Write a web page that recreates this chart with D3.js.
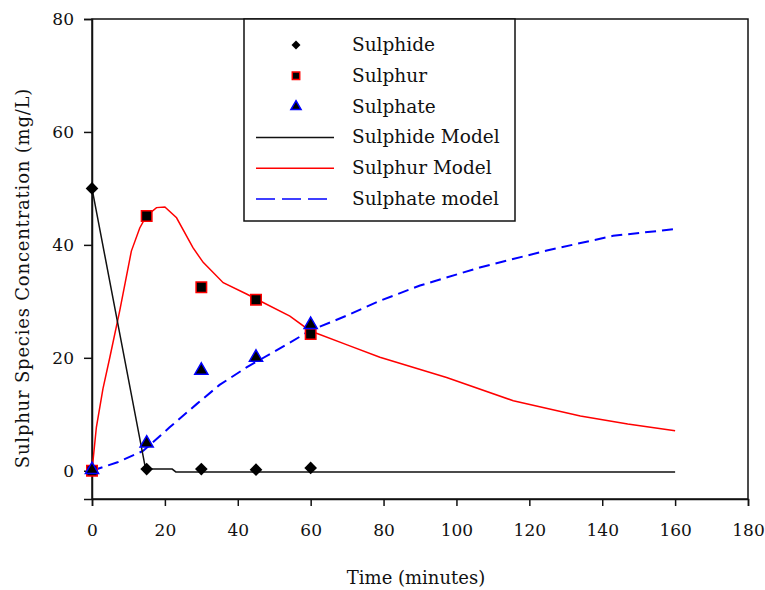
<!DOCTYPE html>
<html>
<head>
<meta charset="utf-8">
<script src="https://cdn.jsdelivr.net/npm/d3@7"></script>
<style>
  body { margin: 0; background: #fff; }
  svg text { font-family: "DejaVu Serif", serif; fill: #111; }
</style>
</head>
<body>
<div id="chart"></div>
<script>
// measured points (minutes, mg/L)
const sulphideObs = [[0, 50], [15, 0.3], [30, 0.3], [45, 0.2], [60, 0.5]];
const sulphurObs = [[0, 0], [15, 45.1], [30, 32.5], [45, 30.3], [60, 24.2]];
const sulphateObs = [[0, 0], [15, 4.7], [30, 17.6], [45, 19.9], [60, 25.7]];

// model curves
const sulphideModel = [[0, 50], [14.5, 1], [15, 0.3], [22, 0.3], [23, -0.2], [160, -0.2]];
const sulphurModel = [[0, 0], [1.2, 7.7], [3, 14.5], [4.9, 20.1], [7.6, 28.3], [10.8, 38.9], [13.1, 43],
  [14.9, 45.1], [17.7, 46.6], [20, 46.7], [23.2, 44.8], [27.7, 39.5], [30.5, 36.9], [36, 33.3],
  [42.4, 31.3], [46, 30.1], [54.3, 27.4], [59.8, 24.8], [70, 22.3], [79, 20.1], [97.3, 16.5],
  [115.6, 12.4], [134, 9.7], [147, 8.3], [160, 7.1]];
const sulphateModel = [[0, 0], [7, 1.5], [14, 3.5], [21.3, 7.7], [28.7, 11.8], [35, 15.2], [42.4, 18.3],
  [54.3, 22.7], [59.8, 24.8], [70, 27.5], [79, 30.1], [90, 32.8], [106.4, 36], [124.8, 39],
  [143, 41.6], [160, 42.8]];

const xTicks = [0, 20, 40, 60, 80, 100, 120, 140, 160, 180];
const yTicks = [0, 20, 40, 60, 80];

const legendItems = ['Sulphide', 'Sulphur', 'Sulphate', 'Sulphide Model', 'Sulphur Model', 'Sulphate model'];

const width = 765, height = 590;
const margin = { top: 19, right: 17, bottom: 91, left: 92 };

const svg = d3.select('#chart').append('svg')
  .attr('width', width)
  .attr('height', height);

const x = d3.scaleLinear().domain([0, 180]).range([margin.left, width - margin.right]);
const y = d3.scaleLinear().domain([-5, 80]).range([height - margin.bottom, margin.top]);

// frame
svg.append('rect')
  .attr('x', x(0)).attr('y', y(80))
  .attr('width', x(180) - x(0)).attr('height', y(-5) - y(80))
  .attr('fill', 'none').attr('stroke', '#111').attr('stroke-width', 1.5);

// axes
const xAxis = svg.append('g')
  .attr('transform', `translate(0,${y(-5)})`)
  .call(d3.axisBottom(x).tickValues(xTicks).tickSize(7).tickPadding(18).tickFormat(d3.format('d')));
const yAxis = svg.append('g')
  .attr('transform', `translate(${x(0)},0)`)
  .call(d3.axisLeft(y).tickValues(yTicks).tickSize(8).tickPadding(10).tickFormat(d3.format('d')));
[xAxis, yAxis].forEach(g => {
  g.select('.domain').attr('stroke', '#111').attr('stroke-width', 1.5);
  g.selectAll('.tick line').attr('stroke', '#111').attr('stroke-width', 1.5);
  g.selectAll('.tick text').attr('font-size', 17).attr('font-family', '"DejaVu Serif", serif').attr('fill', '#111');
});

// axis labels
svg.append('text')
  .attr('x', 416)
  .attr('y', 584)
  .attr('text-anchor', 'middle')
  .attr('font-size', 18)
  .text('Time (minutes)');

svg.append('text')
  .attr('transform', 'rotate(-90)')
  .attr('x', -278)
  .attr('y', 29)
  .attr('text-anchor', 'middle')
  .attr('font-size', 18)
  .attr('letter-spacing', 0.8)
  .text('Sulphur Species Concentration (mg/L)');

const line = d3.line().x(d => x(d[0])).y(d => y(d[1]));

// model lines
svg.append('path').datum(sulphurModel)
  .attr('fill', 'none').attr('stroke', '#ff0000').attr('stroke-width', 1.5).attr('d', line);
svg.append('path').datum(sulphateModel)
  .attr('fill', 'none').attr('stroke', '#0000ff').attr('stroke-width', 2)
  .attr('stroke-dasharray', '11,6').attr('d', line);
svg.append('path').datum(sulphideModel)
  .attr('fill', 'none').attr('stroke', '#111').attr('stroke-width', 1.5).attr('d', line);

// markers (diamond = square turned 45deg)
const diamond = d3.symbol().type(d3.symbolSquare).size(80);
const square = d3.symbol().type(d3.symbolSquare).size(110);
const triangle = d3.symbol().type(d3.symbolTriangle).size(75);

svg.selectAll('.sulphur').data(sulphurObs).join('path')
  .attr('d', square).attr('transform', d => `translate(${x(d[0])},${y(d[1])})`)
  .attr('fill', '#000').attr('stroke', '#ff0000').attr('stroke-width', 1.5);
svg.selectAll('.sulphate').data(sulphateObs).join('path')
  .attr('d', triangle).attr('transform', d => `translate(${x(d[0])},${y(d[1]) - 1})`)
  .attr('fill', '#000').attr('stroke', '#0000ff').attr('stroke-width', 1.5);
svg.selectAll('.sulphide').data(sulphideObs).join('path')
  .attr('d', diamond).attr('transform', d => `translate(${x(d[0])},${y(d[1])}) rotate(45)`)
  .attr('fill', '#000');

// Legend
const legend = svg.append('g').attr('class', 'legend');
legend.append('rect')
  .attr('x', 244).attr('y', margin.top)
  .attr('width', 271).attr('height', 202)
  .attr('fill', '#fff').attr('stroke', '#111').attr('stroke-width', 1.5);

const legendSymbols = [
  { kind: 'sym', sym: d3.symbol().type(d3.symbolSquare).size(40), fill: '#000', stroke: 'none', rot: 45 },
  { kind: 'sym', sym: d3.symbol().type(d3.symbolSquare).size(55), fill: '#000', stroke: '#ff0000', rot: 0 },
  { kind: 'sym', sym: d3.symbol().type(d3.symbolTriangle).size(45), fill: '#000', stroke: '#0000ff', rot: 0 },
  { kind: 'line', stroke: '#111', dash: null },
  { kind: 'line', stroke: '#ff0000', dash: null },
  { kind: 'line', stroke: '#0000ff', dash: '19,7' }
];

legendItems.forEach((label, i) => {
  const cy = 45 + i * 30.8;
  const s = legendSymbols[i];
  if (s.kind === 'sym') {
    legend.append('path')
      .attr('d', s.sym)
      .attr('transform', `translate(296,${cy}) rotate(${s.rot})`)
      .attr('fill', s.fill).attr('stroke', s.stroke).attr('stroke-width', 1.5);
  } else {
    legend.append('line')
      .attr('x1', 256).attr('x2', 334).attr('y1', cy).attr('y2', cy)
      .attr('stroke', s.stroke).attr('stroke-width', 1.5)
      .attr('stroke-dasharray', s.dash);
  }
  legend.append('text')
    .attr('x', 352).attr('y', cy + 6)
    .attr('font-size', 18.5)
    .text(label);
});
</script>
</body>
</html>
